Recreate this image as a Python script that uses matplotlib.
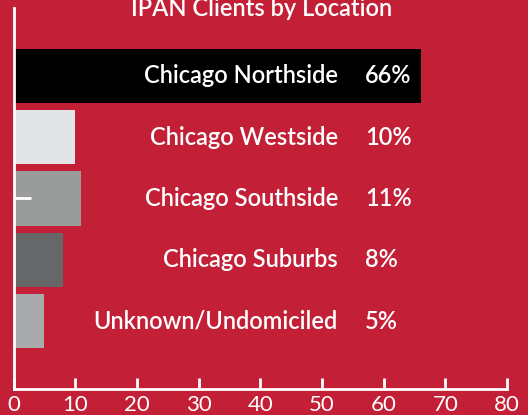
import matplotlib
matplotlib.use('Agg')
from matplotlib import pyplot as plt

# data
locations = ['Unknown/Undomiciled', 'Chicago Suburbs', 'Chicago Southside',
             'Chicago Westside', 'Chicago Northside']
shares = [5, 8, 11, 10, 66]
bar_colors = ['#a9aaac', '#666768', '#9a9b9b', '#e3e4e5', '#000000']
x_ticks = [0, 10, 20, 30, 40, 50, 60, 70, 80]

bg = '#c31f37'
plt.rcParams['font.family'] = ['Lato', 'DejaVu Sans']

fig = plt.figure(figsize=(5.28, 4.15), dpi=100, facecolor=bg)
ax = fig.add_axes([13.5 / 528, 26 / 415, 493.5 / 528, 381 / 415])
ax.set_facecolor(bg)

ypos = range(len(locations))
ax.barh(ypos, shares, height=0.88, color=bar_colors, zorder=1)

for y, name, v in zip(ypos, locations, shares):
    ax.text(52.6, y, name, ha='right', va='center', color='white',
            fontsize=17, fontweight='semibold')
    ax.text(57.0, y, f'{v}%', ha='left', va='center', color='white',
            fontsize=17, fontweight='semibold')

ax.set_xlim(0, 80)
ax.set_ylim(-1.1, 5.1)
ax.set_xticks(x_ticks)
ax.set_yticks([2])
ax.set_yticklabels([''])
ax.tick_params(axis='x', direction='in', length=8, width=2, colors='white',
               labelsize=16, pad=4)
ax.tick_params(axis='y', direction='in', length=12, width=2, colors='white')
for s in ['top', 'right']:
    ax.spines[s].set_visible(False)
for s in ['left', 'bottom']:
    ax.spines[s].set_color('white')
    ax.spines[s].set_linewidth(2)

fig.text(262 / 528, 1 - 9 / 415, 'IPAN Clients by Location', ha='center',
         va='center', color='white', fontsize=17, fontweight='semibold')

fig.savefig('out.png', dpi=100, facecolor=bg)
